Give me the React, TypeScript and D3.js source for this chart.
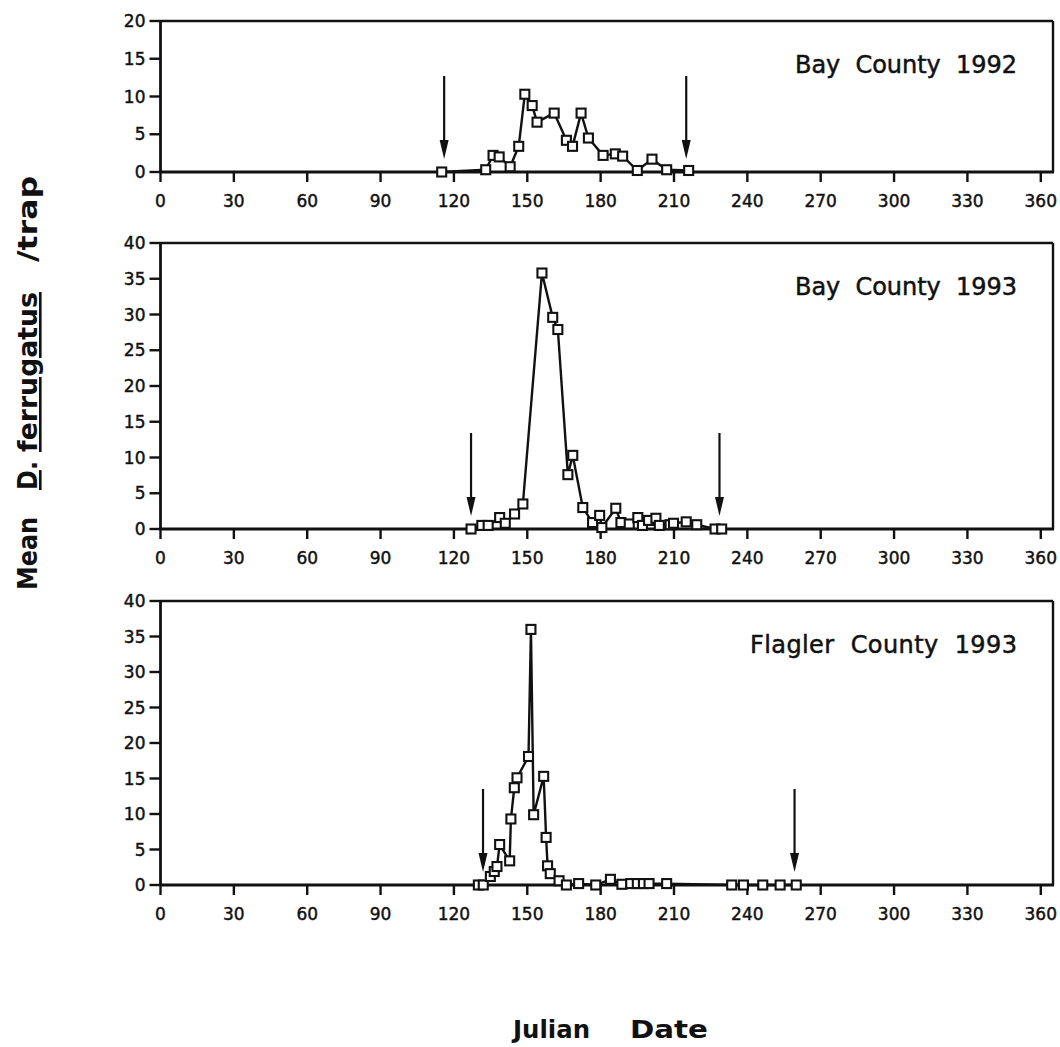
import React from 'react';
import * as d3 from 'd3';

// ---------- DATA ----------
const xTicks = [0, 30, 60, 90, 120, 150, 180, 210, 240, 270, 300, 330, 360];

const bay92Days = [115, 133, 136, 138.5, 143, 146.5, 149, 152, 154, 161, 166, 168.5, 172, 175, 181, 186, 189, 195, 201, 207, 216];
const bay92Values = [0, 0.3, 2.2, 2.0, 0.7, 3.4, 10.3, 8.8, 6.6, 7.8, 4.2, 3.4, 7.8, 4.5, 2.2, 2.4, 2.1, 0.2, 1.7, 0.3, 0.2];

const bay93Days = [127, 131.4, 134, 138.7, 141, 144.8, 148.2, 156, 160.4, 162.5, 166.6, 168.6, 172.7, 176.7, 179.6, 180.5, 186.2, 188.3, 191.7, 195.2, 197.1, 199.6, 202.6, 204, 208.4, 209.8, 215, 219.3, 226.8, 229.5];
const bay93Values = [0, 0.5, 0.5, 1.6, 0.8, 2.1, 3.5, 35.8, 29.6, 27.9, 7.6, 10.3, 3.0, 0.9, 1.9, 0.2, 2.9, 0.9, 0.7, 1.6, 0.5, 1.2, 1.5, 0.5, 0.6, 0.8, 1.0, 0.6, 0, 0];

const flaglerDays = [130, 132, 134.9, 136.5, 137.6, 138.7, 142.8, 143.3, 144.7, 145.8, 150.5, 151.5, 152.6, 156.7, 157.7, 158.3, 159.4, 163, 166, 171, 178, 184, 188.7, 192.3, 195, 197.5, 199.8, 207, 233.6, 238.4, 246.3, 253.4, 260];
const flaglerValues = [0, 0, 1.2, 1.9, 2.6, 5.7, 3.4, 9.3, 13.7, 15.1, 18.1, 36.0, 9.9, 15.3, 6.7, 2.7, 1.6, 0.6, 0, 0.2, 0, 0.8, 0.1, 0.2, 0.2, 0.2, 0.2, 0.2, 0, 0, 0, 0, 0];

const panelTitles = ['Bay  County  1992', 'Bay  County  1993', 'Flagler  County  1993'];
const panelYMax = [20, 40, 40];
const panelYTicks = [
  [0, 5, 10, 15, 20],
  [0, 5, 10, 15, 20, 25, 30, 35, 40],
  [0, 5, 10, 15, 20, 25, 30, 35, 40],
];
const panelArrowDays = [
  [116, 215],
  [127, 228.6],
  [131.9, 259.3],
];

// ---------- LAYOUT ----------
const W = 1060;
const H = 1047;
const PLOT_LEFT = 160.5;
const PLOT_RIGHT = 1053;
const panelBoxes = [
  { top: 21, bottom: 172, titleX: 795, titleLen: 222 },
  { top: 243, bottom: 529, titleX: 795, titleLen: 222 },
  { top: 601, bottom: 885, titleX: 750, titleLen: 267 },
];
const FONT = "'DejaVu Sans', 'Liberation Sans', Arial, sans-serif";
const INK = '#111';

const xScale = d3.scaleLinear().domain([0, 365]).range([PLOT_LEFT, PLOT_RIGHT]);

const series = [
  { days: bay92Days, values: bay92Values },
  { days: bay93Days, values: bay93Values },
  { days: flaglerDays, values: flaglerValues },
];

function Panel({ idx }: { idx: number }) {
  const box = panelBoxes[idx];
  const yScale = d3.scaleLinear().domain([0, panelYMax[idx]]).range([box.bottom, box.top]);
  const pts = series[idx].days.map((d, i) => [d, series[idx].values[i]] as [number, number]);
  const line = d3
    .line<[number, number]>()
    .x((p) => xScale(p[0]))
    .y((p) => yScale(p[1]));
  const sq = 9;
  return (
    <g>
      {/* frame */}
      <line x1={PLOT_LEFT} x2={PLOT_RIGHT} y1={box.top} y2={box.top} stroke={INK} strokeWidth={2.4} />
      <line x1={PLOT_RIGHT} x2={PLOT_RIGHT} y1={box.top} y2={box.bottom} stroke={INK} strokeWidth={2.4} />
      <line x1={PLOT_LEFT} x2={PLOT_LEFT} y1={box.top - 1} y2={box.bottom + 1} stroke={INK} strokeWidth={2.8} />
      <line x1={PLOT_LEFT - 1} x2={PLOT_RIGHT + 1} y1={box.bottom} y2={box.bottom} stroke={INK} strokeWidth={2.8} />
      {/* y ticks */}
      {panelYTicks[idx].map((t) => (
        <g key={'y' + t}>
          <line x1={PLOT_LEFT - 11} x2={PLOT_LEFT} y1={yScale(t)} y2={yScale(t)} stroke={INK} strokeWidth={2.4} />
          <text
            x={PLOT_LEFT - 15}
            y={yScale(t)}
            dy="0.36em"
            textAnchor="end"
            fontFamily={FONT}
            fontSize={17}
            fill={INK}
            stroke={INK}
            strokeWidth={0.45}
          >
            {t}
          </text>
        </g>
      ))}
      {/* x ticks */}
      {xTicks.map((t) => (
        <g key={'x' + t}>
          <line x1={xScale(t)} x2={xScale(t)} y1={box.bottom} y2={box.bottom + 10} stroke={INK} strokeWidth={2.4} />
          <text
            x={xScale(t)}
            y={box.bottom + 35}
            textAnchor="middle"
            fontFamily={FONT}
            fontSize={17}
            fill={INK}
            stroke={INK}
            strokeWidth={0.45}
          >
            {t}
          </text>
        </g>
      ))}
      {/* title */}
      <text
        x={box.titleX}
        y={box.top + 52}
        fontFamily={FONT}
        fontSize={24}
        fill={INK}
        stroke={INK}
        strokeWidth={0.5}
        textLength={box.titleLen}
        lengthAdjust="spacing"
        style={{ whiteSpace: 'pre' }}
      >
        {panelTitles[idx]}
      </text>
      {/* arrows */}
      {panelArrowDays[idx].map((d, i) => {
        const x = xScale(d);
        const tip = box.bottom - 13;
        return (
          <g key={'a' + i}>
            <line x1={x} x2={x} y1={tip - 83} y2={tip - 12} stroke={INK} strokeWidth={2.2} />
            <polygon points={`${x - 4.5},${tip - 19} ${x + 4.5},${tip - 19} ${x},${tip}`} fill={INK} />
          </g>
        );
      })}
      {/* data */}
      <path d={line(pts) || ''} fill="none" stroke={INK} strokeWidth={2.4} strokeLinejoin="round" />
      {pts.map((p, i) => (
        <rect
          key={'p' + i}
          x={xScale(p[0]) - sq / 2}
          y={yScale(p[1]) - sq / 2}
          width={sq}
          height={sq}
          fill="#fff"
          stroke={INK}
          strokeWidth={2.1}
        />
      ))}
    </g>
  );
}

export default function App() {
  return (
    <div style={{ position: 'absolute', left: 0, top: 0, width: W, height: H, overflow: 'hidden', background: '#fff' }}>
      <svg width={W} height={H} viewBox={`0 0 ${W} ${H}`} style={{ display: 'block', background: '#fff' }}>
        {panelBoxes.map((_, i) => (
          <Panel key={i} idx={i} />
        ))}
        {/* y axis label */}
        <g transform="translate(37,0) rotate(-90)" fontFamily={FONT} fontWeight="bold" fontSize={26} fill={INK}>
          <text x={-590} y={0} textLength={73} lengthAdjust="spacingAndGlyphs">Mean</text>
          <text x={-490} y={0} textLength={29} lengthAdjust="spacingAndGlyphs">
            <tspan style={{ textDecoration: 'underline' }}>D</tspan>.
          </text>
          <text x={-452} y={0} textLength={160} lengthAdjust="spacingAndGlyphs" style={{ textDecoration: 'underline' }}>
            ferrugatus
          </text>
          <text x={-262} y={0} textLength={86} lengthAdjust="spacingAndGlyphs">/trap</text>
        </g>
        {/* x axis label */}
        <g fontFamily={FONT} fontWeight="bold" fontSize={24} fill={INK}>
          <text x={513} y={1038} textLength={77} lengthAdjust="spacingAndGlyphs">Julian</text>
          <text x={630} y={1038} textLength={78} lengthAdjust="spacingAndGlyphs">Date</text>
        </g>
      </svg>
    </div>
  );
}
